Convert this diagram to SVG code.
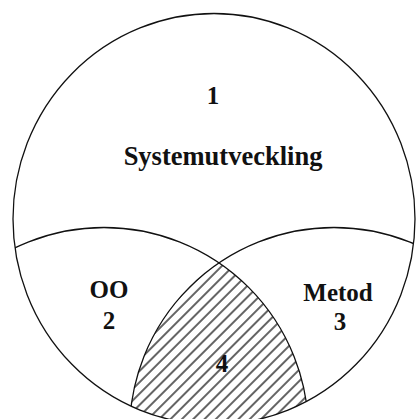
<svg xmlns="http://www.w3.org/2000/svg" width="416" height="419" viewBox="0 0 416 419">
<style>
.ln{fill:none;stroke:#111;stroke-width:1.3}
.t{font-family:"Liberation Serif","Times New Roman",serif;font-weight:bold;font-size:25px;fill:#111;text-anchor:middle}
</style>
<defs>
<pattern id="hatch" patternUnits="userSpaceOnUse" width="8" height="8" patternTransform="rotate(45)">
<line x1="1" y1="0" x2="1" y2="8" stroke="#111" stroke-width="1.3"/>
</pattern>
<clipPath id="clipE"><ellipse cx="214" cy="219" rx="201" ry="205.5"/></clipPath>
<clipPath id="clipA"><circle cx="104" cy="432" r="204.5"/></clipPath>
</defs>
<rect width="416" height="419" fill="#fff"/>
<g id="region4" clip-path="url(#clipE)">
<g clip-path="url(#clipA)">
<circle cx="334" cy="432" r="204.5" fill="url(#hatch)"/>
</g>
</g>
<g id="region1">
<ellipse class="ln" cx="214" cy="219" rx="201" ry="205.5"/>
<text class="t" x="213" y="104">1</text>
<text class="t" x="223" y="165" style="font-size:26.5px">Systemutveckling</text>
</g>
<g id="region2" clip-path="url(#clipE)">
<circle class="ln" cx="104" cy="432" r="204.5"/>
</g>
<g id="region3" clip-path="url(#clipE)">
<circle class="ln" cx="334" cy="432" r="204.5"/>
</g>
<g id="labels">
<text class="t" x="109" y="298">OO</text>
<text class="t" x="109" y="329">2</text>
<text class="t" x="338" y="301">Metod</text>
<text class="t" x="340" y="330">3</text>
<text class="t" x="222" y="372">4</text>
</g>
</svg>
